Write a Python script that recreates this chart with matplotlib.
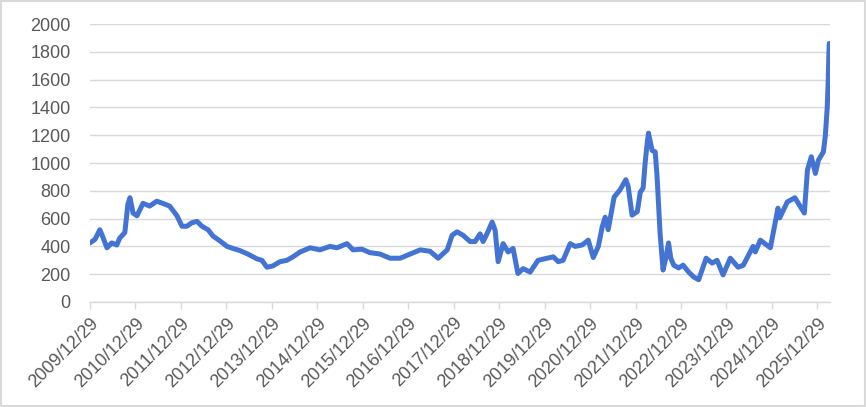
import numpy as np
import pandas as pd
import matplotlib
matplotlib.use('Agg')
import matplotlib.pyplot as plt
import matplotlib.dates as mdates
from matplotlib.patches import Rectangle

# |~~~~~~~~~~| Daten |~~~~~~~~~~|
datum = ['2009-12-29', '2010-02-07', '2010-03-18', '2010-04-10', '2010-05-14', '2010-06-22',
         '2010-08-01', '2010-08-25', '2010-10-05', '2010-10-29', '2010-11-15', '2010-12-10',
         '2011-01-10', '2011-02-28', '2011-04-22', '2011-06-18', '2011-08-05', '2011-09-30',
         '2011-11-28', '2012-01-07', '2012-02-15', '2012-03-26', '2012-05-07', '2012-06-15',
         '2012-08-03', '2012-09-12', '2012-11-06', '2013-01-03', '2013-02-20', '2013-04-16',
         '2013-06-19', '2013-09-01', '2013-10-10', '2013-11-20', '2014-01-07', '2014-03-04',
         '2014-04-29', '2014-06-17', '2014-08-13', '2014-11-01', '2015-01-19', '2015-04-10',
         '2015-06-05', '2015-08-25', '2015-10-12', '2015-12-22', '2016-02-25', '2016-05-16',
         '2016-08-04', '2016-10-25', '2017-01-13', '2017-04-04', '2017-06-22', '2017-08-26',
         '2017-11-07', '2017-12-16', '2018-01-25', '2018-03-14', '2018-05-10', '2018-06-19',
         '2018-07-29', '2018-08-22', '2018-09-22', '2018-11-03', '2018-11-27', '2018-12-21',
         '2019-01-30', '2019-03-11', '2019-04-20', '2019-05-29', '2019-07-10', '2019-09-04',
         '2019-11-07', '2020-01-19', '2020-03-08', '2020-04-17', '2020-05-26', '2020-07-22',
         '2020-08-31', '2020-10-26', '2020-12-14', '2021-01-23', '2021-03-05', '2021-04-05',
         '2021-04-29', '2021-05-23', '2021-07-10', '2021-08-25', '2021-10-12', '2021-10-31',
         '2021-12-01', '2022-01-12', '2022-02-05', '2022-02-28', '2022-03-16', '2022-04-01',
         '2022-04-12', '2022-05-11', '2022-06-05', '2022-06-20', '2022-07-14', '2022-08-07',
         '2022-08-31', '2022-09-20', '2022-10-08', '2022-11-01', '2022-12-10', '2023-01-15',
         '2023-03-01', '2023-04-10', '2023-05-20', '2023-07-19', '2023-09-05', '2023-10-15',
         '2023-12-02', '2024-01-29', '2024-04-01', '2024-05-13', '2024-07-30', '2024-08-17',
         '2024-09-26', '2024-12-16', '2025-02-15', '2025-03-01', '2025-05-01', '2025-07-01',
         '2025-09-15', '2025-10-10', '2025-11-10', '2025-12-13', '2026-01-06', '2026-02-15',
         '2026-03-03', '2026-03-18', '2026-03-26', '2026-03-30', '2026-04-03']
werte = [425, 450, 520, 470, 390, 425,
         410, 460, 500, 700, 750, 640,
         620, 710, 690, 725, 710, 690,
         620, 545, 545, 570, 580, 545,
         520, 475, 440, 400, 385, 370,
         345, 310, 300, 250, 260, 290,
         300, 325, 360, 390, 375, 400,
         390, 420, 375, 380, 355, 345,
         315, 315, 345, 375, 365, 315,
         375, 480, 505, 480, 435, 435,
         490, 435, 490, 575, 515, 290,
         420, 360, 385, 205, 240, 215,
         300, 315, 325, 290, 300, 420,
         400, 410, 445, 320, 400, 540,
         610, 520, 755, 805, 880, 830,
         625, 650, 790, 820, 1000, 1140,
         1215, 1090, 1080, 900, 495, 230,
         325, 425, 315, 265, 245, 265,
         215, 180, 160, 315, 280, 300,
         195, 315, 250, 265, 400, 360,
         445, 390, 675, 605, 720, 750,
         640, 950, 1045, 925, 1020, 1080,
         1200, 1400, 1600, 1750, 1860]

jahre = list(range(2009, 2026))
tick_daten = [pd.Timestamp(f'{j}-12-29') for j in jahre]
tick_namen = [f'{j}/12/29' for j in jahre]

# |~~~~~~~~~~| Darstellung |~~~~~~~~~~|
plt.rcParams['font.family'] = ['Liberation Sans', 'DejaVu Sans']
grau = '#D9D9D9'
textgrau = '#595959'
blau = '#4374D4'

fig = plt.figure(figsize=(8.67, 4.07), dpi=100)
ax = fig.add_axes([0.1038, 0.258, 0.8535, 0.683])

x = pd.to_datetime(datum)
ax.plot(x, werte, color=blau, linewidth=3.6, solid_capstyle='round', solid_joinstyle='round')

ax.set_ylim(0, 2000)
ax.set_yticks(np.arange(0, 2001, 200))
ax.set_xlim(pd.Timestamp('2009-12-29'), pd.Timestamp('2026-04-09'))
ax.set_xticks(tick_daten)
ax.set_xticklabels(tick_namen, rotation=45, ha='right', rotation_mode='anchor')

ax.grid(axis='y', color=grau, linewidth=1.0)
ax.set_axisbelow(True)
for s in ['top', 'right', 'left']:
    ax.spines[s].set_visible(False)
ax.spines['bottom'].set_color(grau)
ax.spines['bottom'].set_linewidth(1.0)

ax.tick_params(axis='y', length=0, pad=14, labelsize=13, labelcolor=textgrau)
ax.tick_params(axis='x', length=5, width=1.0, color=grau, pad=4, labelsize=13, labelcolor=textgrau)

# Rahmen um die ganze Grafik
fig.patches.append(Rectangle((0.001, 0.003), 0.997, 0.994, transform=fig.transFigure,
                             fill=False, edgecolor=grau, linewidth=1.5))

fig.savefig('out.png', dpi=100)
